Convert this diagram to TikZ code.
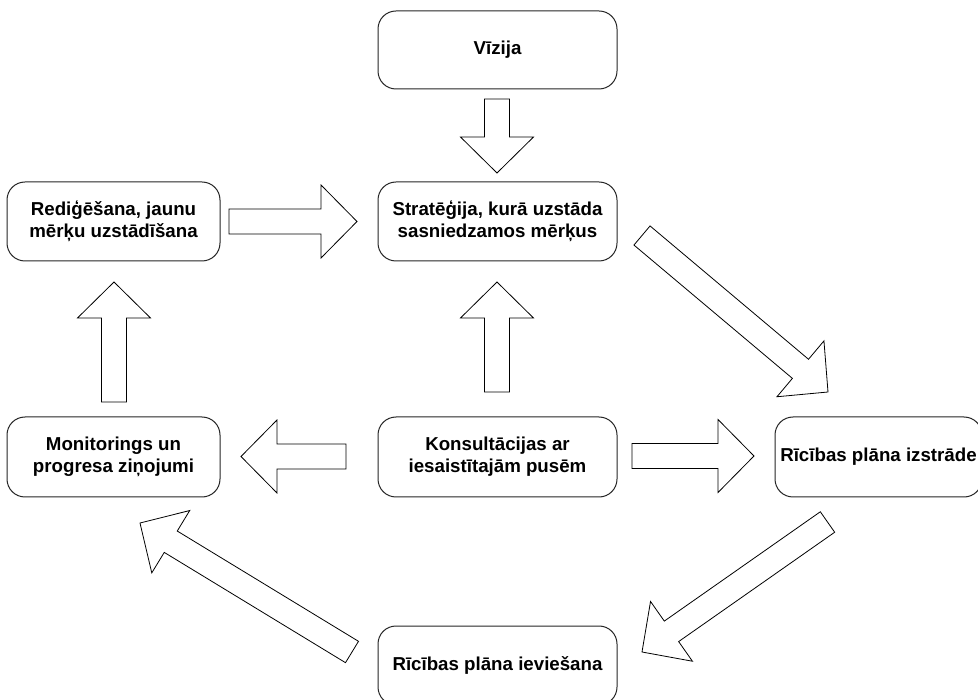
\documentclass[tikz,border=0pt]{standalone}
\usepackage{fontspec}
\setmainfont{Liberation Sans}
\usetikzlibrary{calc}
\tikzset{
  box/.style={draw=black!85, line width=1pt, rounded corners=18pt, fill=white,
    inner sep=0pt, align=center, font=\fontsize{18.7}{22}\selectfont\bfseries},
  barrow/.style={draw=black, line width=0.8pt, fill=white, line join=miter}
}
\newcommand{\blockarrow}[2]{%
  \path (#1) coordinate (ba-t) (#2) coordinate (ba-p);
  \path ($(ba-p)!36pt!(ba-t)$) coordinate (ba-h);
  \draw[barrow] ($(ba-t)!12.5pt!90:(ba-p)$) -- ($(ba-h)!12.5pt!90:(ba-p)$)
    -- ($(ba-h)!36.5pt!90:(ba-p)$) -- (ba-p) -- ($(ba-h)!36.5pt!-90:(ba-p)$)
    -- ($(ba-h)!12.5pt!-90:(ba-p)$) -- ($(ba-t)!12.5pt!-90:(ba-p)$) -- cycle;}
\begin{document}
\begin{tikzpicture}[x=1pt, y=-1pt]
\useasboundingbox (0,0) rectangle (978,700);
\fill[white] (0,0) rectangle (978,700);
\clip (0,0) rectangle (978,700);
% nodes
\node[box, minimum width=239pt, minimum height=78pt] (viz) at (497.5,50) {Vīzija};
\node[box, minimum width=239pt, minimum height=79pt] (strat) at (497.5,221.5) {Stratēģija, kurā uzstāda\\sasniedzamos mērķus};
\node[box, minimum width=213pt, minimum height=79pt] (red) at (113.5,221.5) {Rediģēšana, jaunu\\mērķu uzstādīšana};
\node[box, minimum width=213pt, minimum height=80pt] (mon) at (113.5,457) {Monitorings un\\progresa ziņojumi};
\node[box, minimum width=239pt, minimum height=80pt] (kons) at (497.5,457) {Konsultācijas ar\\iesaistītajām pusēm};
\node[box, minimum width=207pt, minimum height=80pt] (riz) at (878.5,457) {Rīcības plāna izstrāde};
\node[box, minimum width=239pt, minimum height=79pt] (iev) at (497.5,665.5) {Rīcības plāna ieviešana};
% arrow end points
\coordinate (a1t) at (497,99);    \coordinate (a1p) at (497,173);
\coordinate (a2t) at (497,392);   \coordinate (a2p) at (497,282);
\coordinate (a3t) at (114,402);   \coordinate (a3p) at (114,282);
\coordinate (a4t) at (229,221.5); \coordinate (a4p) at (357,221.5);
\coordinate (a5t) at (346,456.5); \coordinate (a5p) at (241,456.5);
\coordinate (a6t) at (632,456);   \coordinate (a6p) at (754,456);
\coordinate (a7t) at (642,235.5); \coordinate (a7p) at (828,392);
\coordinate (a8t) at (827.5,522); \coordinate (a8p) at (642,652);
\coordinate (a9t) at (352,652);   \coordinate (a9p) at (140,523);
% block arrows
\blockarrow{a1t}{a1p}
\blockarrow{a2t}{a2p}
\blockarrow{a3t}{a3p}
\blockarrow{a4t}{a4p}
\blockarrow{a5t}{a5p}
\blockarrow{a6t}{a6p}
\blockarrow{a7t}{a7p}
\blockarrow{a8t}{a8p}
\blockarrow{a9t}{a9p}
\end{tikzpicture}
\end{document}
